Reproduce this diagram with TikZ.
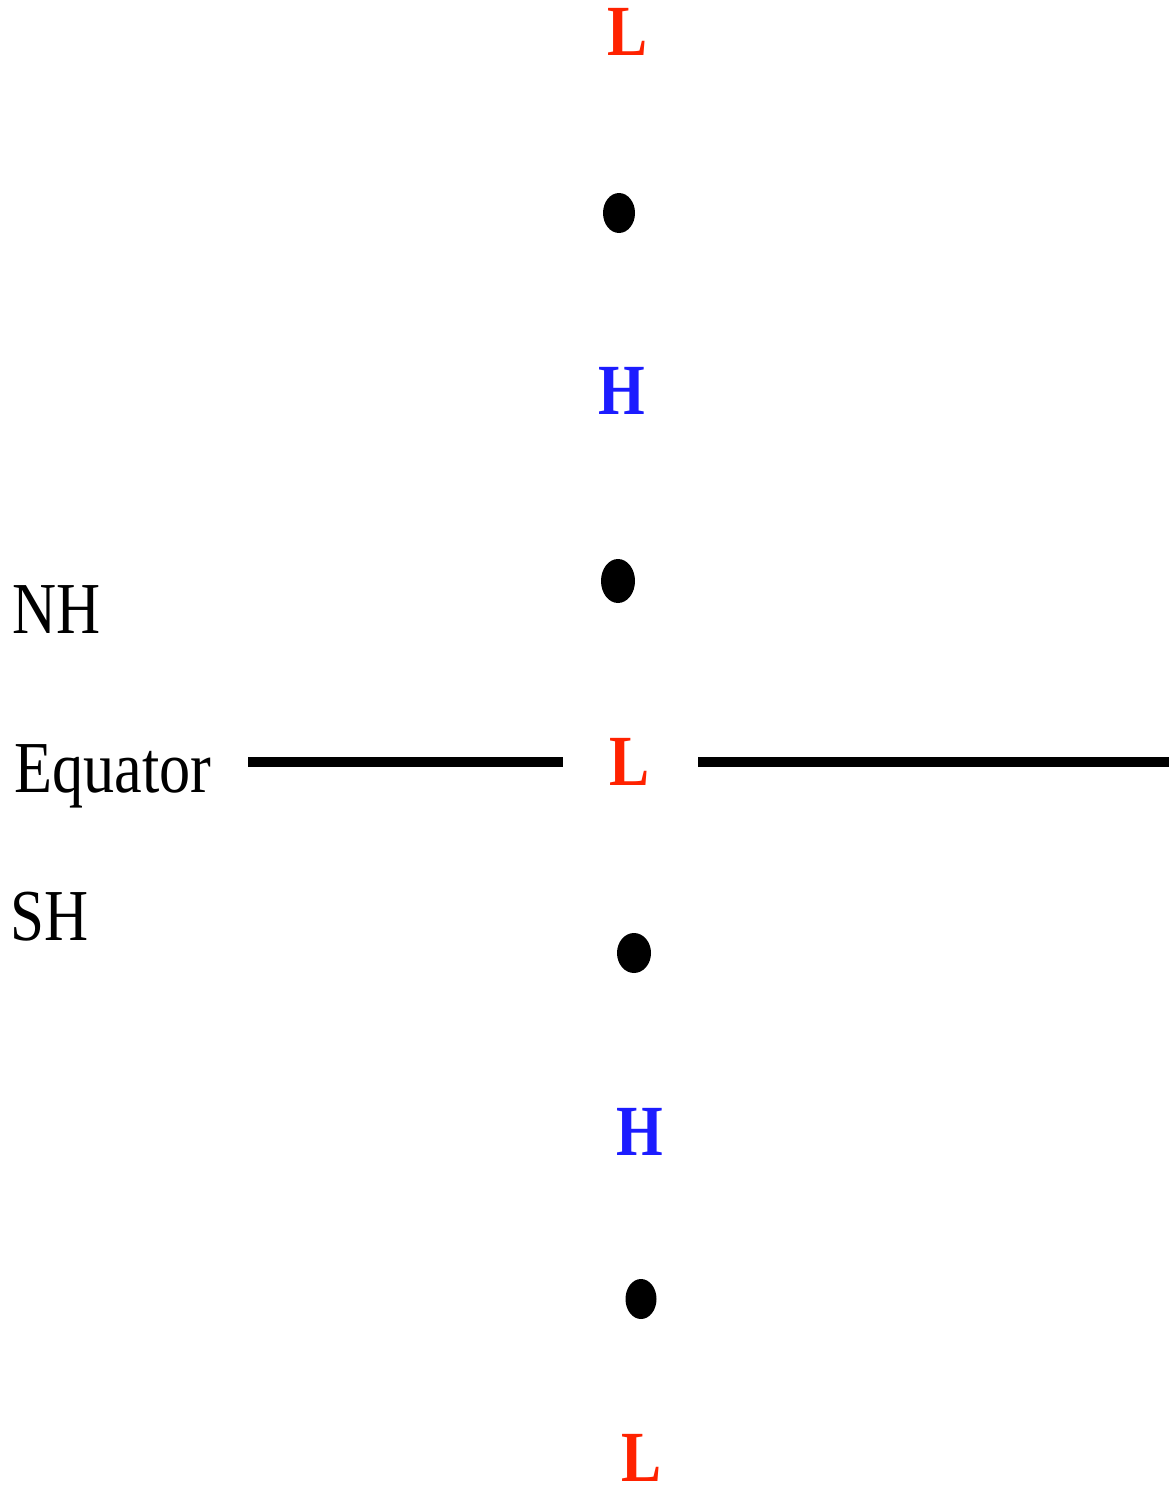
\documentclass[tikz,border=0pt]{standalone}
\usepackage{fontspec}
\setmainfont{Liberation Serif}
\definecolor{lred}{RGB}{255,34,0}
\definecolor{hblue}{RGB}{28,28,255}
\newcommand{\tallbox}[1]{\scalebox{1}[1.2]{#1}}
\begin{document}
\begin{tikzpicture}[x=1pt,y=-1pt,
  lowlbl/.style={inner sep=0pt,anchor=base,font=\fontsize{60}{60}\selectfont\bfseries,text=lred},
  highlbl/.style={inner sep=0pt,anchor=base,font=\fontsize{60}{60}\selectfont\bfseries,text=hblue},
  sidelbl/.style={inner sep=0pt,anchor=base west,font=\fontsize{61}{61}\selectfont,text=black},
  eqline/.style={line width=9.5pt,black}]
\useasboundingbox (0,0) rectangle (1169,1490);
\fill[white] (0,0) rectangle (1169,1490);
\node[lowlbl] (L1) at (628,56) {\tallbox{L}};
\coordinate (d1) at (619,213);
\fill (d1) ellipse [x radius=16, y radius=20];
\node[highlbl] (H1) at (622,414) {\tallbox{H}};
\coordinate (d2) at (618,581);
\fill (d2) ellipse [x radius=17, y radius=22];
\node[sidelbl] (NH) at (12,633) {\tallbox{NH}};
\node[sidelbl] (EQ) at (14,792) {\scalebox{1.02}[1.2]{Equator}};
\node[lowlbl] (L2) at (630,785) {\tallbox{L}};
\coordinate (eqa) at (248,762);
\coordinate (eqb) at (563,762);
\coordinate (eqc) at (698,762);
\coordinate (eqd) at (1169,762);
\draw[eqline] (eqa) -- (eqb);
\draw[eqline] (eqc) -- (eqd);
\node[sidelbl] (SH) at (10,940) {\tallbox{SH}};
\coordinate (d3) at (634,953);
\fill (d3) ellipse [x radius=17, y radius=20];
\node[highlbl] (H2) at (640,1155) {\tallbox{H}};
\coordinate (d4) at (641,1299);
\fill (d4) ellipse [x radius=15.5, y radius=20];
\node[lowlbl] (L3) at (642,1481) {\tallbox{L}};
\end{tikzpicture}
\end{document}
